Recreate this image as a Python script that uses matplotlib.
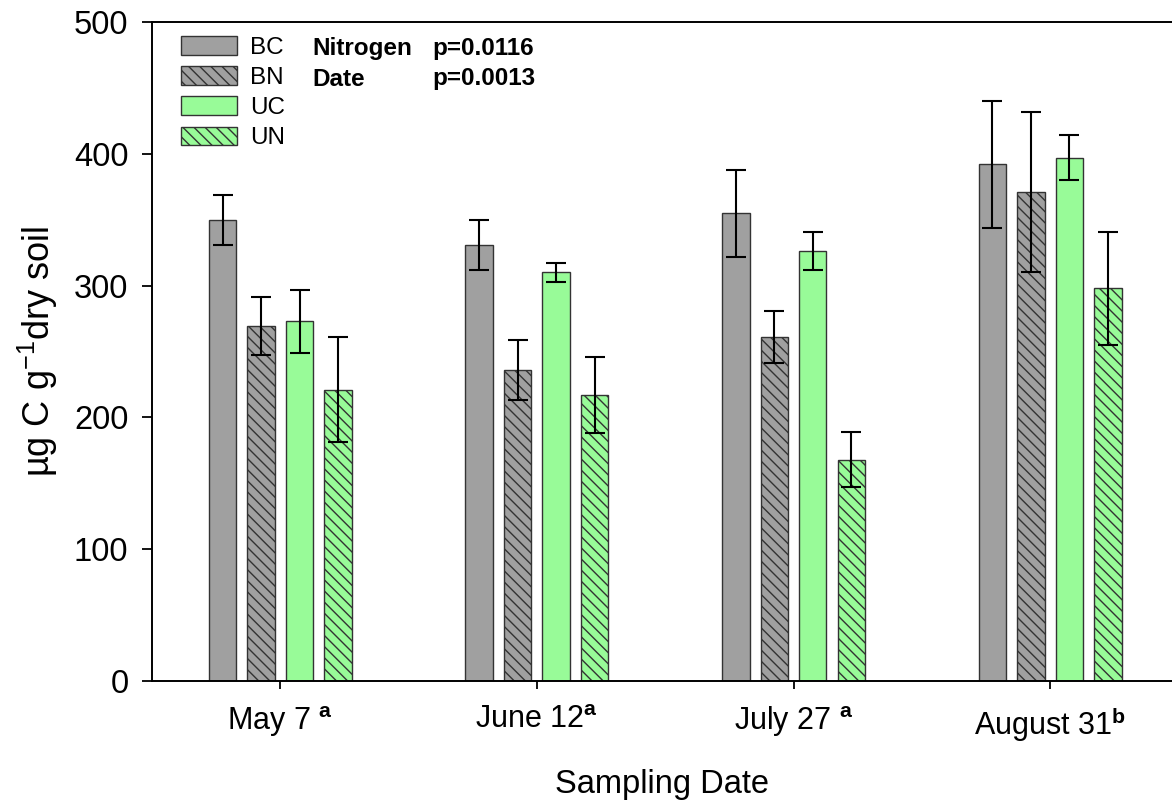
import numpy as np
import matplotlib
matplotlib.use("Agg")
import matplotlib.pyplot as plt

plt.rcParams['font.family'] = ['Liberation Sans', 'DejaVu Sans']
plt.rcParams['mathtext.fontset'] = 'custom'
plt.rcParams['mathtext.rm'] = 'Liberation Sans'
plt.rcParams['mathtext.bf'] = 'Liberation Sans:bold'
plt.rcParams['mathtext.default'] = 'regular'
plt.rcParams['hatch.linewidth'] = 1.0

# microbial biomass C by sampling date and treatment
dates = ['May 7', 'June 12', 'July 27', 'August 31']
letters = [' $^{\\mathbf{a}}$', '$^{\\mathbf{a}}$', ' $^{\\mathbf{a}}$', '$^{\\mathbf{b}}$']
treatments = ['BC', 'BN', 'UC', 'UN']
bc = [350, 331, 355, 392]
bn = [269, 236, 261, 371]
uc = [273, 310, 326, 397]
un = [221, 217, 168, 298]
bc_err = [19, 19, 33, 48]
bn_err = [22, 23, 20, 61]
uc_err = [24, 7.5, 14.5, 17]
un_err = [40, 29, 21, 43]

means = [bc, bn, uc, un]
errs = [bc_err, bn_err, uc_err, un_err]
colors = ['#a0a0a0', '#a0a0a0', '#98fb98', '#98fb98']
hatches = [None, '\\\\\\', None, '\\\\\\']

fig = plt.figure(figsize=(11.72, 8.06), dpi=100)
ax = fig.add_axes([152/1172, 125/806, 1 - 152/1172, (681-22)/806])

x = np.arange(len(dates))
w = 0.107
step = 0.15
for i in range(4):
    ax.bar(x + (i - 1.5)*step, means[i], w, color=colors[i], edgecolor='#333333',
           linewidth=1.0, hatch=hatches[i], label=treatments[i], zorder=2)
    ax.errorbar(x + (i - 1.5)*step, means[i], yerr=errs[i], fmt='none', ecolor='black',
                elinewidth=1.5, capsize=7.5, capthick=1.5, zorder=3)

ax.set_xlim(-0.5, 3.475)
ax.set_ylim(0, 500)
ax.set_yticks([0, 100, 200, 300, 400, 500])
ax.set_xticks(x)
ax.set_xticklabels([d + l for d, l in zip(dates, letters)], fontsize=22)
ax.tick_params(axis='y', labelsize=23.5, direction='out', length=7, width=1.3, pad=10)
ax.tick_params(axis='x', direction='out', length=6, width=1.3, pad=11)
ax.spines['right'].set_visible(False)
for s in ['left', 'top', 'bottom']:
    ax.spines[s].set_linewidth(1.4)

ax.set_xlabel('Sampling Date', fontsize=23.5, labelpad=18)
ax.set_ylabel('µg C g$^{-1}$dry soil', fontsize=26, labelpad=10)

ax.legend(loc='upper left', bbox_to_anchor=(181/1172, (806-36)/806),
          bbox_transform=fig.transFigure, frameon=False, fontsize=17.5,
          handlelength=2.3, handleheight=0.82, handletextpad=0.55,
          labelspacing=0.3, borderpad=0, borderaxespad=0)

fig.text(312/1172, 1 - 49/806, 'Nitrogen', fontsize=17.5, fontweight='bold', va='center')
fig.text(432/1172, 1 - 49/806, 'p=0.0116', fontsize=17.5, fontweight='bold', va='center')
fig.text(312/1172, 1 - 79/806, 'Date', fontsize=17.5, fontweight='bold', va='center')
fig.text(432/1172, 1 - 79/806, 'p=0.0013', fontsize=17.5, fontweight='bold', va='center')

fig.savefig('out.png', dpi=100)
